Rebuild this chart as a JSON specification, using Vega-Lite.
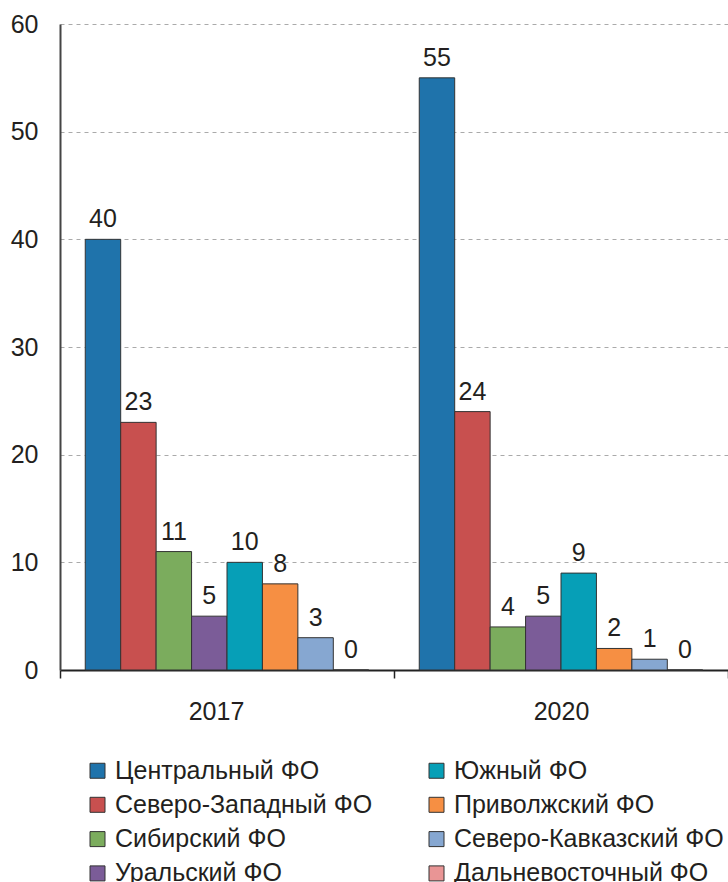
{
  "$schema": "https://vega.github.io/schema/vega-lite/v6.json",
  "width": 668,
  "height": 646,
  "autosize": {"type": "none"},
  "padding": {"left": 60, "top": 24, "right": 0, "bottom": 212},
  "background": "white",
  "config": {
    "font": "Liberation Sans",
    "view": {"stroke": null}
  },
  "data": {
    "values": [
      {"year": "2017", "district": "Центральный ФО", "value": 40},
      {"year": "2017", "district": "Северо-Западный ФО", "value": 23},
      {"year": "2017", "district": "Сибирский ФО", "value": 11},
      {"year": "2017", "district": "Уральский ФО", "value": 5},
      {"year": "2017", "district": "Южный ФО", "value": 10},
      {"year": "2017", "district": "Приволжский ФО", "value": 8},
      {"year": "2017", "district": "Северо-Кавказский ФО", "value": 3},
      {"year": "2017", "district": "Дальневосточный ФО", "value": 0},
      {"year": "2020", "district": "Центральный ФО", "value": 55},
      {"year": "2020", "district": "Северо-Западный ФО", "value": 24},
      {"year": "2020", "district": "Сибирский ФО", "value": 4},
      {"year": "2020", "district": "Уральский ФО", "value": 5},
      {"year": "2020", "district": "Южный ФО", "value": 9},
      {"year": "2020", "district": "Приволжский ФО", "value": 2},
      {"year": "2020", "district": "Северо-Кавказский ФО", "value": 1},
      {"year": "2020", "district": "Дальневосточный ФО", "value": 0}
    ]
  },
  "encoding": {
    "x": {
      "field": "year",
      "type": "nominal",
      "scale": {"paddingInner": 0, "paddingOuter": 0},
      "axis": {
        "title": null,
        "labelAngle": 0,
        "labelFontSize": 25,
        "labelColor": "#231f20",
        "labelPadding": 21,
        "labelOffset": {"expr": "datum.value === '2017' ? -11 : 0"},
        "tickBand": "extent",
        "tickSize": 8,
        "tickColor": "#222222",
        "tickWidth": 1.5,
        "domainColor": "#222222",
        "domainWidth": 2
      }
    },
    "xOffset": {
      "field": "district",
      "type": "nominal",
      "sort": [
        "Центральный ФО",
        "Северо-Западный ФО",
        "Сибирский ФО",
        "Уральский ФО",
        "Южный ФО",
        "Приволжский ФО",
        "Северо-Кавказский ФО",
        "Дальневосточный ФО"
      ],
      "scale": {"paddingInner": 0, "paddingOuter": 0.713}
    },
    "y": {
      "field": "value",
      "type": "quantitative",
      "scale": {"domain": [0, 60], "nice": false},
      "axis": {
        "title": null,
        "values": [0, 10, 20, 30, 40, 50, 60],
        "labelFontSize": 25,
        "labelColor": "#231f20",
        "labelPadding": 22,
        "ticks": false,
        "domainColor": "#444444",
        "domainWidth": 2,
        "grid": true,
        "gridDash": [4, 4],
        "gridColor": "#aaaaaa",
        "gridWidth": 1
      }
    }
  },
  "layer": [
    {
      "mark": {"type": "bar", "stroke": "#333333", "strokeWidth": 1},
      "encoding": {
        "color": {
          "field": "district",
          "type": "nominal",
          "scale": {
            "domain": [
              "Центральный ФО",
              "Северо-Западный ФО",
              "Сибирский ФО",
              "Уральский ФО",
              "Южный ФО",
              "Приволжский ФО",
              "Северо-Кавказский ФО",
              "Дальневосточный ФО"
            ],
            "range": [
              "#1f73ab",
              "#c8504f",
              "#7bac5d",
              "#7b5c98",
              "#069fb7",
              "#f68f43",
              "#86a7d1",
              "#e99595"
            ]
          },
          "legend": {
            "title": null,
            "orient": "none",
            "legendX": 25,
            "legendY": 734,
            "columns": 2,
            "columnPadding": 51,
            "rowPadding": 8.3,
            "padding": 0,
            "symbolType": "square",
            "symbolSize": 225,
            "symbolStrokeColor": "#333333",
            "symbolStrokeWidth": 1,
            "symbolOpacity": 1,
            "labelFontSize": 25,
            "labelColor": "#231f20",
            "labelOffset": 5,
            "labelLimit": 400
          }
        }
      }
    },
    {
      "mark": {
        "type": "text",
        "baseline": "alphabetic",
        "dy": -12,
        "fontSize": 25,
        "color": "#231f20"
      },
      "encoding": {
        "text": {"field": "value", "type": "quantitative"}
      }
    }
  ]
}
